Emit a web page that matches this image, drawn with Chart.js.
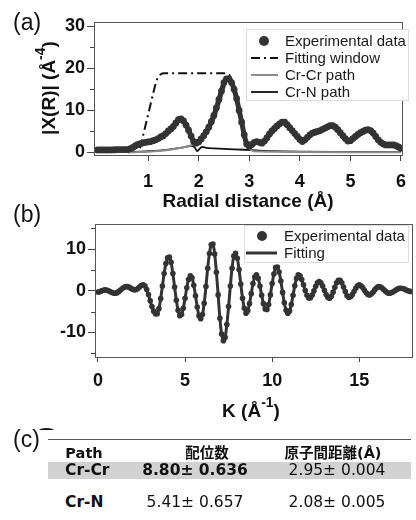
<!DOCTYPE html>
<html><head><meta charset="utf-8">
<script src="https://cdn.jsdelivr.net/npm/chart.js@4.4.1/dist/chart.umd.min.js"></script>
<style>
html,body{margin:0;padding:0;background:#fff;}
#wrap{position:relative;width:416px;height:520px;overflow:hidden;font-family:"Liberation Sans",Arial,sans-serif;color:#111;}
canvas{position:absolute;left:0;}
.plabel{position:absolute;left:13px;font-size:23px;line-height:23px;color:#111;}
.cell{position:absolute;font-family:"DejaVu Sans","Noto Sans CJK JP",sans-serif;font-size:15.5px;line-height:18px;color:#111;white-space:nowrap;}
.hd{font-size:14.5px;}
.b{font-weight:bold;}
</style></head><body>
<div id="wrap">
<canvas id="ca" width="416" height="215" style="top:0"></canvas>
<canvas id="cb" width="416" height="230" style="top:200px"></canvas>
<div class="plabel" style="top:11px">(a)</div>
<div class="plabel" style="top:203px">(b)</div>
<div class="plabel" style="top:428px">(c)</div>
<div id="tbl"></div>
</div>
<script>
// ---------- Panel (a): |chi(R)| ----------
const radialR = [0,0.05,0.1,0.15,0.2,0.25,0.3,0.35,0.4,0.45,
0.5,0.55,0.6,0.65,0.7,0.75,0.8,0.85,0.9,0.95,
1,1.05,1.1,1.15,1.2,1.25,1.3,1.35,1.4,1.45,
1.5,1.55,1.6,1.65,1.7,1.75,1.8,1.85,1.9,1.95,
2,2.05,2.1,2.15,2.2,2.25,2.3,2.35,2.4,2.45,
2.5,2.55,2.6,2.65,2.7,2.75,2.8,2.85,2.9,2.95,
3,3.05,3.1,3.15,3.2,3.25,3.3,3.35,3.4,3.45,
3.5,3.55,3.6,3.65,3.7,3.75,3.8,3.85,3.9,3.95,
4,4.05,4.1,4.15,4.2,4.25,4.3,4.35,4.4,4.45,
4.5,4.55,4.6,4.65,4.7,4.75,4.8,4.85,4.9,4.95,
5,5.05,5.1,5.15,5.2,5.25,5.3,5.35,5.4,5.45,
5.5,5.55,5.6,5.65,5.7,5.75,5.8,5.85,5.9,5.95,6];
const chiRExp = [0.6,0.6,0.6,0.6,0.6,0.6,0.6,0.65,0.7,0.7,
0.7,0.7,0.7,0.9,1.2,1.6,1.9,2.1,2.3,2.4,
2.5,2.6,2.8,3.0,3.3,3.7,4.0,4.5,5.1,5.6,
6.2,7.0,7.8,8.0,7.5,6.5,5.3,3.9,2.6,2.2,
2.5,3.2,4.0,4.9,6.0,7.3,8.8,10.6,12.6,14.6,
16.6,17.5,17.5,16.6,15.0,12.8,10.0,7.2,4.2,2.0,
1.5,1.9,2.4,2.6,2.4,2.2,2.7,3.5,4.4,5.1,
5.7,6.3,6.8,7.2,7.2,6.6,5.9,5.2,4.5,3.8,
3.1,2.6,3.0,3.6,4.2,4.6,4.8,5.0,5.2,5.5,
5.8,6.1,6.4,6.4,6.0,5.4,4.7,4.0,3.3,2.7,
2.8,3.3,3.8,4.3,4.7,5.0,5.3,5.4,5.2,4.6,
3.8,3.0,2.4,2.0,1.8,1.8,1.8,1.8,1.6,1.3,1.0];
const windowR   = [0.84,0.95,1.05,1.12,1.18,1.25,1.32,2.55,2.65,2.75,2.85,2.95,3.02];
const windowVal = [1.0,6.5,11.5,15.0,17.5,18.6,18.8,18.8,17.5,13.0,7.0,2.5,1.0];
const crCrR   = [0.6,0.8,1.0,1.2,1.4,1.6,1.8,1.9,2.0,2.1,2.2,2.3,2.4,2.5,2.58,2.65,2.7,2.8,2.9,3.0,3.1,3.3,4.0,5.0,6.0];
const crCrVal = [0.0,0.1,0.2,0.35,0.6,1.0,1.5,2.0,2.7,3.8,5.3,7.6,11.0,15.0,17.4,16.6,15.0,10.0,4.5,1.0,0.3,0.2,0.1,0.05,0.05];
const crNR   = [0.6,1.0,1.4,1.7,1.85,1.92,1.97,2.02,2.07,2.15,2.3,2.6,2.9,3.2,3.5,4.0,5.0,6.0];
const crNVal = [0.1,0.3,0.7,1.2,1.6,1.2,0.3,0.9,1.3,1.1,0.95,0.8,0.65,0.45,0.3,0.2,0.15,0.1];
const xTicksA = [1,2,3,4,5,6];
const yTicksA = [0,10,20,30];
const yMinorA = [5,15,25];
const legendA = ['Experimental data','Fitting window','Cr-Cr path','Cr-N path'];
const titleXA = 'Radial distance (Å)';
const titleYA = [['|X(R)| (Å', false], ['-4', true], [')', false]];

// ---------- Panel (b): Re[chi(q)] ----------
const kValues = [0,0.1,0.2,0.3,0.4,0.5,0.6,0.7,0.8,0.9,
1,1.1,1.2,1.3,1.4,1.5,1.6,1.7,1.8,1.9,
2,2.1,2.2,2.3,2.4,2.5,2.6,2.7,2.8,2.9,
3,3.1,3.2,3.3,3.4,3.5,3.6,3.7,3.8,3.9,
4,4.1,4.2,4.3,4.4,4.5,4.6,4.7,4.8,4.9,
5,5.1,5.2,5.3,5.4,5.5,5.6,5.7,5.8,5.9,
6,6.1,6.2,6.3,6.4,6.5,6.6,6.7,6.8,6.9,
7,7.1,7.2,7.3,7.4,7.5,7.6,7.7,7.8,7.9,
8,8.1,8.2,8.3,8.4,8.5,8.6,8.7,8.8,8.9,
9,9.1,9.2,9.3,9.4,9.5,9.6,9.7,9.8,9.9,
10,10.1,10.2,10.3,10.4,10.5,10.6,10.7,10.8,10.9,
11,11.1,11.2,11.3,11.4,11.5,11.6,11.7,11.8,11.9,
12,12.1,12.2,12.3,12.4,12.5,12.6,12.7,12.8,12.9,
13,13.1,13.2,13.3,13.4,13.5,13.6,13.7,13.8,13.9,
14,14.1,14.2,14.3,14.4,14.5,14.6,14.7,14.8,14.9,
15,15.1,15.2,15.3,15.4,15.5,15.6,15.7,15.8,15.9,
16,16.1,16.2,16.3,16.4,16.5,16.6,16.7,16.8,16.9,
17,17.1,17.2,17.3,17.4,17.5,17.6,17.7,17.8,17.9,18];
const chiKExp = [-0.3,-0.25,-0.05,0.1,0.2,0.14,-0.02,-0.2,-0.44,-0.57,
-0.6,-0.46,-0.17,0.18,0.54,0.83,0.98,0.97,0.8,0.55,
0.32,0.2,0.28,0.57,0.95,1.28,1.4,1.1,0.28,-0.9,
-2.4,-3.8,-4.9,-5.5,-5.5,-4.3,-1.9,1.1,4.1,6.5,
7.9,8.1,6.8,4.1,0.9,-2.3,-4.7,-6.0,-5.7,-4.2,
-1.8,0.7,2.7,3.6,3.1,1.3,-1.2,-3.9,-6.0,-6.7,
-5.7,-3.0,1.0,5.4,8.9,11.0,11.2,8.8,4.4,-1.0,
-6.6,-10.4,-12.0,-11.2,-8.1,-3.8,1.1,5.4,8.3,9.0,
7.8,5.1,1.6,-1.8,-4.2,-5.4,-4.8,-3.1,-0.7,1.7,
3.3,3.8,2.95,1.1,-1.1,-3.1,-4.4,-4.5,-3.3,-1.0,
1.7,4.0,5.55,5.7,4.5,2.3,-0.4,-2.9,-4.7,-5.4,
-4.85,-3.3,-1.1,1.2,3.0,3.8,3.6,2.7,1.4,0.05,
-1.1,-1.75,-1.7,-1.05,-0.05,1.05,1.9,2.2,1.9,1.1,
0.1,-0.9,-1.6,-1.8,-1.35,-0.35,0.8,1.9,2.5,2.5,
1.9,0.9,-0.2,-1.2,-1.6,-1.45,-0.95,-0.2,0.6,1.2,
1.4,1.2,0.75,0.1,-0.5,-0.9,-1.0,-0.75,-0.3,0.25,
0.7,1.0,0.95,0.7,0.3,-0.1,-0.45,-0.6,-0.55,-0.38,
-0.13,0.15,0.4,0.56,0.6,0.53,0.38,0.18,-0.02,-0.15,-0.2];
const xTicksB = [0,5,10,15];
const yTicksB = [-10,0,10];
const yMinorB = [-15,-5,5,15];
const legendB = ['Experimental data','Fitting'];
const titleXB = [['K (Å', false], ['-1', true], [')', false]];
const titleYB = [['Re[X(q)] (Å', false], ['-3', true], [')', false]];

// ---------- Panel (c): table ----------
const tableHead = ['Path','配位数','原子間距離(Å)'];
const tableRows = [['Cr-Cr','8.80± 0.636','2.95± 0.004'],['Cr-N','5.41± 0.657','2.08± 0.005']];
const tableBold = [[true,true,false],[true,false,false]];

const FONT = '"Liberation Sans", Arial, sans-serif';
const DARK = '#333333';
const toXY = (xs, ys) => xs.map((x, i) => ({x: x, y: ys[i]}));

const framePlugin = {
  id: 'frame',
  afterDatasetsDraw(chart, args, o) {
    const {ctx, chartArea: a} = chart;
    ctx.save();
    ctx.strokeStyle = '#555'; ctx.lineWidth = 1;
    ctx.strokeRect(Math.round(a.left) + 0.5, Math.round(a.top) + 0.5, Math.round(a.right - a.left), Math.round(a.bottom - a.top));
    const ys = chart.scales.y;
    ctx.strokeStyle = '#444';
    (o.minor || []).forEach(v => {
      const py = Math.round(ys.getPixelForValue(v)) + 0.5;
      ctx.beginPath(); ctx.moveTo(a.left - 4, py); ctx.lineTo(a.left, py); ctx.stroke();
    });
    ctx.restore();
  }
};

// axis titles with a real superscript
const supTitles = {
  id: 'supTitles',
  afterDraw(chart, args, o) {
    const ctx = chart.ctx;
    (o.items || []).forEach(it => {
      ctx.save();
      const mainF = 'bold ' + it.size + 'px ' + FONT;
      const supF = 'bold ' + Math.round(it.size * 0.72) + 'px ' + FONT;
      let total = 0;
      it.parts.forEach(p => { ctx.font = p[1] ? supF : mainF; total += ctx.measureText(p[0]).width; });
      ctx.translate(it.cx, it.cy);
      if (it.rot) ctx.rotate(-Math.PI / 2);
      ctx.fillStyle = '#111'; ctx.textAlign = 'left'; ctx.textBaseline = 'alphabetic';
      let x = -total / 2;
      const base = it.size * 0.36;
      it.parts.forEach(p => {
        ctx.font = p[1] ? supF : mainF;
        ctx.fillText(p[0], x, p[1] ? base - it.size * 0.5 : base);
        x += ctx.measureText(p[0]).width;
      });
      ctx.restore();
    });
  }
};

const boxLegend = {
  id: 'boxLegend',
  afterDraw(chart, args, o) {
    const ctx = chart.ctx;
    ctx.save();
    ctx.fillStyle = '#fff';
    ctx.fillRect(o.x, o.y, o.w, o.h);
    ctx.strokeStyle = '#dcdcdc'; ctx.lineWidth = 1;
    ctx.strokeRect(o.x + 0.5, o.y + 0.5, o.w, o.h);
    ctx.font = '15px ' + FONT;
    ctx.textBaseline = 'middle'; ctx.textAlign = 'left';
    o.labels.forEach((label, row) => {
      const ds = chart.data.datasets.find(d => d.label === label);
      const cy = o.y + o.first + row * o.rowH;
      if (ds.legendKind === 'dot') {
        ctx.fillStyle = ds.pointBackgroundColor;
        ctx.beginPath(); ctx.arc(o.dotX, cy, 5, 0, Math.PI * 2); ctx.fill();
      } else {
        ctx.strokeStyle = ds.borderColor; ctx.lineWidth = ds.borderWidth;
        ctx.setLineDash(ds.borderDash || []);
        ctx.beginPath(); ctx.moveTo(o.lineX0, cy); ctx.lineTo(o.lineX1, cy); ctx.stroke();
        ctx.setLineDash([]);
      }
      ctx.fillStyle = '#1a1a1a';
      ctx.fillText(label, o.textX, cy + 0.5);
    });
    ctx.restore();
  }
};

function axisCommon(extra) {
  return Object.assign({
    type: 'linear',
    grid: {drawOnChartArea: false, drawTicks: true, tickLength: 6, color: '#444', tickColor: '#444', tickWidth: 1},
    border: {display: true, color: '#555', width: 1},
    ticks: {color: '#111', font: {family: FONT, size: 18, weight: 'bold'}, autoSkip: false, maxRotation: 0, padding: 2}
  }, extra);
}

new Chart(document.getElementById('ca'), {
  type: 'line',
  data: {datasets: [
    {label: legendA[0], legendKind: 'dot', data: toXY(radialR, chiRExp), borderColor: DARK, borderWidth: 5,
     pointRadius: 3.4, pointBackgroundColor: DARK, pointBorderWidth: 0, tension: 0.3, showLine: true},
    {label: legendA[1], legendKind: 'line', data: toXY(windowR, windowVal), borderColor: '#111', borderWidth: 2,
     borderDash: [9, 4, 2, 4], pointRadius: 0, cubicInterpolationMode: 'monotone'},
    {label: legendA[2], legendKind: 'line', data: toXY(crCrR, crCrVal), borderColor: '#8c8c8c', borderWidth: 2,
     pointRadius: 0, cubicInterpolationMode: 'monotone'},
    {label: legendA[3], legendKind: 'line', data: toXY(crNR, crNVal), borderColor: '#111', borderWidth: 1.8,
     pointRadius: 0, cubicInterpolationMode: 'monotone'}
  ]},
  options: {
    responsive: false, animation: false, events: [],
    layout: {padding: {left: 0, right: 5, top: 22, bottom: 0}},
    plugins: {
      legend: {display: false}, tooltip: {enabled: false},
      frame: {minor: yMinorA},
      supTitles: {items: [{parts: titleYA, size: 19, cx: 48, cy: 88, rot: true}]},
      boxLegend: {labels: legendA, x: 246, y: 29, w: 162, h: 71, first: 12, rowH: 17, dotX: 264, lineX0: 251, lineX1: 278, textX: 285}
    },
    scales: {
      x: axisCommon({min: -0.07, max: 6.02,
        afterBuildTicks: s => { s.ticks = xTicksA.map(v => ({value: v})); },
        afterFit: s => { s.height = 60; },
        ticks: {color: '#111', font: {family: FONT, size: 18, weight: 'bold'}, autoSkip: false, maxRotation: 0, padding: 10},
        title: {display: true, text: titleXA, color: '#111', font: {family: FONT, size: 19, weight: 'bold'}, padding: {top: 0, bottom: 2}}
      }),
      y: axisCommon({min: -0.6, max: 31,
        afterBuildTicks: s => { s.ticks = yTicksA.map(v => ({value: v})); },
        afterFit: s => { s.width = 94; },
        grid: {drawOnChartArea: false, drawTicks: true, tickLength: 7, color: '#444', tickColor: '#444', tickWidth: 1}
      })
    }
  },
  plugins: [framePlugin, boxLegend, supTitles]
});

new Chart(document.getElementById('cb'), {
  type: 'line',
  data: {datasets: [
    {label: legendB[0], legendKind: 'dot', data: toXY(kValues, chiKExp), showLine: false,
     pointRadius: 2.8, pointBackgroundColor: DARK, pointBorderWidth: 0, borderColor: DARK},
    {label: legendB[1], legendKind: 'line', data: toXY(kValues, chiKExp), borderColor: DARK, borderWidth: 3,
     pointRadius: 0, tension: 0.35}
  ]},
  options: {
    responsive: false, animation: false, events: [],
    layout: {padding: {left: 0, right: 3, top: 24, bottom: 0}},
    plugins: {
      legend: {display: false}, tooltip: {enabled: false},
      frame: {minor: yMinorB},
      supTitles: {items: [{parts: titleYB, size: 19, cx: 44, cy: 286, rot: true}, {parts: titleXB, size: 19, cx: 251, cy: 210, rot: false}]},
      boxLegend: {labels: legendB, x: 244, y: 25, w: 164, h: 37, first: 11, rowH: 17, dotX: 262, lineX0: 246, lineX1: 277, textX: 284}
    },
    scales: {
      x: axisCommon({min: -0.17, max: 18.03,
        afterBuildTicks: s => { s.ticks = xTicksB.map(v => ({value: v})); },
        afterFit: s => { s.height = 73; },
        grid: {drawOnChartArea: false, drawTicks: true, tickLength: 5, color: '#444', tickColor: '#444', tickWidth: 1},
        ticks: {color: '#111', font: {family: FONT, size: 18, weight: 'bold'}, autoSkip: false, maxRotation: 0, padding: 8}
      }),
      y: axisCommon({min: -15.9, max: 16.0,
        afterBuildTicks: s => { s.ticks = yTicksB.map(v => ({value: v})); },
        afterFit: s => { s.width = 95; },
        grid: {drawOnChartArea: false, drawTicks: true, tickLength: 7, color: '#444', tickColor: '#444', tickWidth: 1}
      })
    }
  },
  plugins: [framePlugin, boxLegend, supTitles]
});

// table (c)
(function () {
  const t = document.getElementById('tbl');
  const headC = [84, 207, 333];
  const rowAnchor = [['left', 65], ['center', 195], ['center', 337]];
  const rowC = [453, 470, 502];
  const place = (txt, cls, mode, x, cy) => {
    const left = mode === 'left' ? x : x - 100;
    const w = mode === 'left' ? 'auto' : '200px';
    return '<div class="cell ' + cls + '" style="left:' + left + 'px;top:' + (cy - 9) + 'px;width:' + w + ';text-align:' + mode + '">' + txt + '</div>';
  };
  let html = '<div style="position:absolute;left:48px;top:439px;width:363px;height:0;border-top:1.5px solid #555"></div>';
  html += '<div style="position:absolute;left:48px;top:462px;width:363px;height:17px;background:#d2d2d2"></div>';
  tableHead.forEach((h, c) => { html += place(h, 'hd b', 'center', headC[c], rowC[0]); });
  tableRows.forEach((r, ri) => {
    r.forEach((v, c) => {
      html += place(v, tableBold[ri][c] ? 'b' : '', rowAnchor[c][0], rowAnchor[c][1], rowC[ri + 1]);
    });
  });
  t.innerHTML = html;
})();
</script>
</body></html>
